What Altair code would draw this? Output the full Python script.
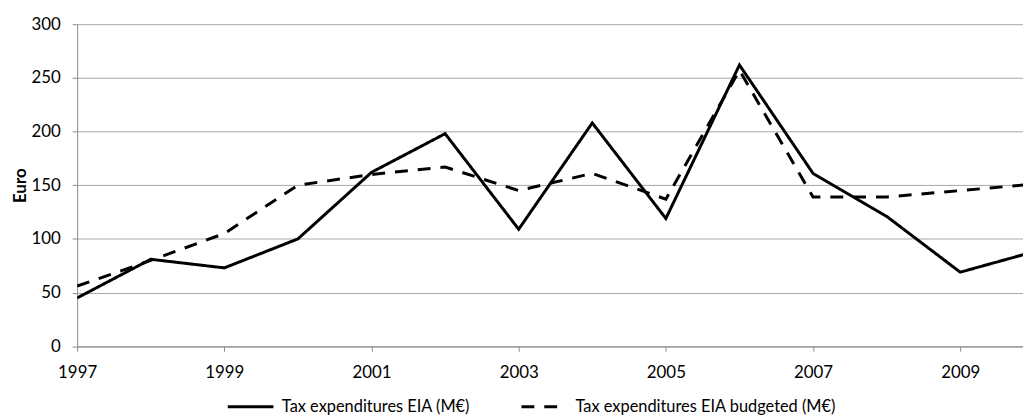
import altair as alt
import pandas as pd

years = list(range(1997, 2011))
eia = [45, 81, 73, 100, 162, 198, 109, 208, 119, 262, 161, 121, 69, 88]
eia_budgeted = [56, 80, 105, 150, 160, 167, 145, 161, 137, 257, 139, 139, 145, 151]
series_names = ["Tax expenditures EIA (M€)", "Tax expenditures EIA budgeted (M€)"]
x_ticks = [1997, 1999, 2001, 2003, 2005, 2007, 2009]
y_ticks = [0, 50, 100, 150, 200, 250, 300]

rows = []
for y, a, b in zip(years, eia, eia_budgeted):
    rows.append({"year": y, "value": a, "series": series_names[0]})
    rows.append({"year": y, "value": b, "series": series_names[1]})
df = pd.DataFrame(rows)

FONT = "Lato"
W = 953.3
H = 324.6

chart = alt.Chart(df).mark_line(strokeWidth=3, color="black", clip=True).encode(
    x=alt.X(
        "year:Q",
        scale=alt.Scale(domain=[1997, 2009.853], nice=False, zero=False),
        axis=alt.Axis(
            values=x_ticks, format="d", title=None, grid=False,
            domainColor="#8c8c8c", tickColor="#8c8c8c", tickSize=5,
            labelFont=FONT, labelFontSize=17, labelColor="black",
            labelPadding=13, labelFlush=False,
        ),
    ),
    y=alt.Y(
        "value:Q",
        scale=alt.Scale(domain=[0, 300], nice=False),
        axis=alt.Axis(
            values=y_ticks, title="Euro", grid=True, gridColor="#a6a6a6",
            domainColor="#8c8c8c", tickColor="#8c8c8c", tickSize=5,
            labelFont=FONT, labelFontSize=17, labelColor="black",
            labelPadding=12,
            titleFont=FONT, titleFontSize=17, titleFontWeight="bold",
            titleColor="black", titleX=-57, titleY=H / 2,
            titleAlign="center", titleBaseline="middle", titleAngle=270,
        ),
    ),
    strokeDash=alt.StrokeDash(
        "series:N",
        sort=series_names,
        scale=alt.Scale(domain=series_names, range=[[1, 0], [13, 10]]),
        legend=alt.Legend(
            title=None, orient="none", direction="horizontal",
            legendX=150.3, legendY=361,
            symbolType="stroke", symbolSize=2116, symbolStrokeWidth=3,
            symbolStrokeColor="black",
            labelFont=FONT, labelFontSize=16.5, labelColor="black",
            labelOffset=7, columnPadding=45, labelLimit=0,
        ),
    ),
).properties(
    width=W,
    height=H,
    padding={"left": 69.7, "top": 14.7, "right": 0, "bottom": 70.7},
    autosize=alt.AutoSizeParams(type="none"),
).configure_view(strokeWidth=0)

chart.save("out.html", embed_options={"renderer": "svg", "actions": False})
